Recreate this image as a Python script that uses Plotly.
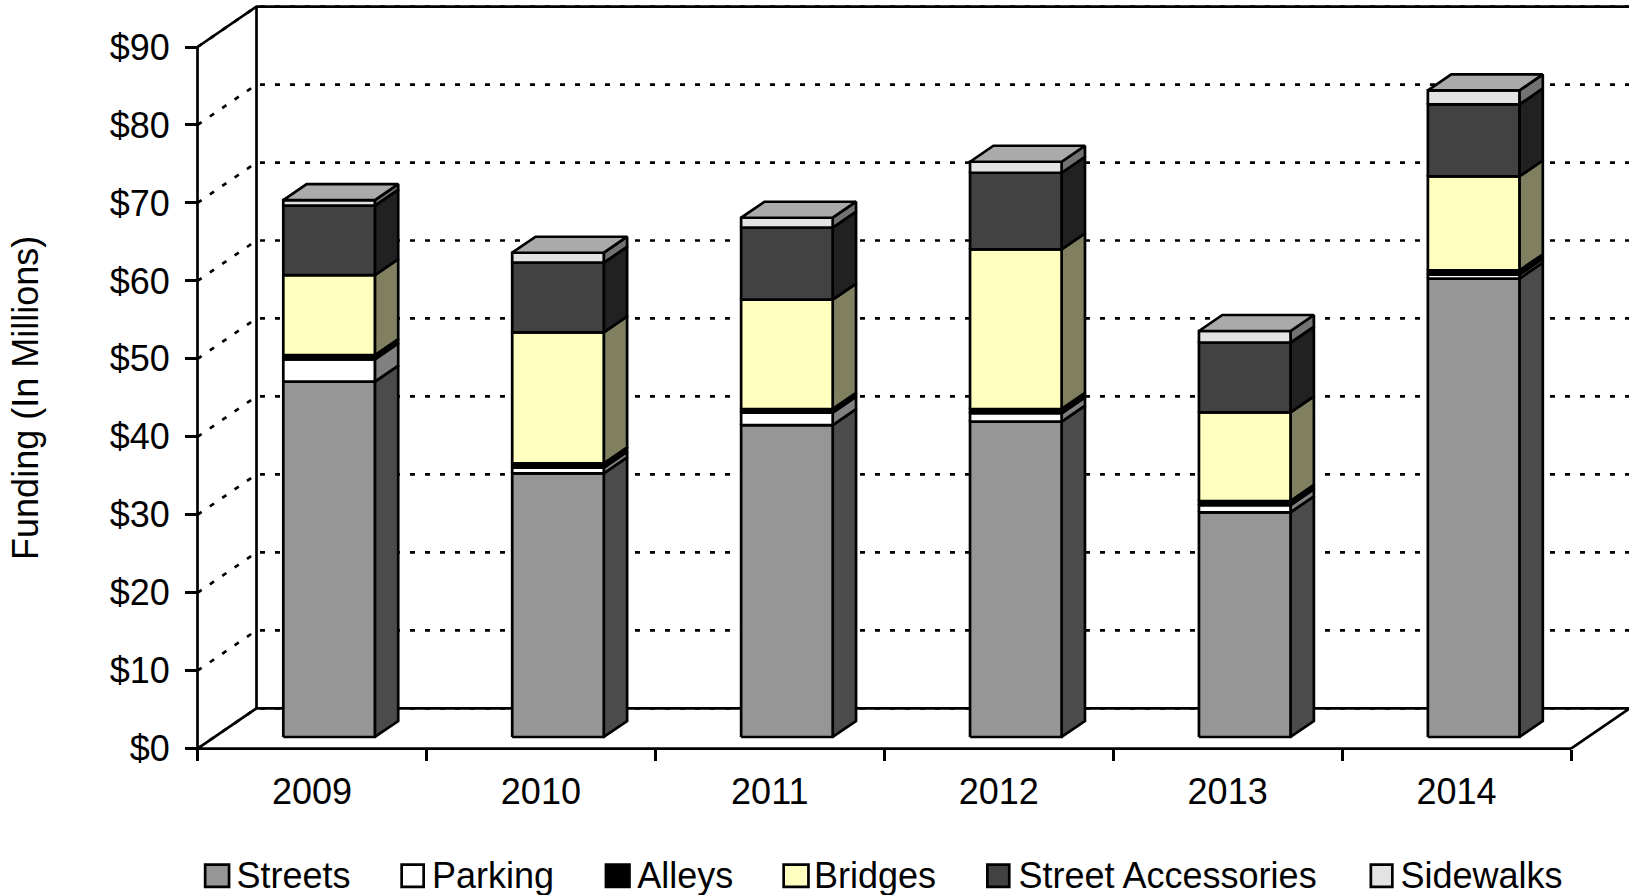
import plotly.graph_objects as go

W, H = 1629, 895
years = ["2009", "2010", "2011", "2012", "2013", "2014"]
streets = [45.57, 33.82, 40.00, 40.44, 28.82, 58.80]
parking = [2.87, 0.72, 1.60, 1.08, 0.93, 0.50]
alleys = [0.55, 0.56, 0.47, 0.55, 0.52, 0.55]
bridges = [10.25, 16.80, 14.02, 20.48, 11.37, 12.05]
accessories = [8.90, 8.93, 9.23, 9.82, 8.93, 9.23]
sidewalks = [0.73, 1.28, 1.28, 1.41, 1.50, 1.80]

names = ["Streets", "Parking", "Alleys", "Bridges", "Street Accessories", "Sidewalks"]
series = [streets, parking, alleys, bridges, accessories, sidewalks]
front_colors = ["#969696", "#FFFFFF", "#000000", "#FFFFC0", "#424242", "#E3E3E3"]
side_colors = ["#4B4B4B", "#808080", "#000000", "#808060", "#212121", "#727272"]
top_color = "#AAAAAA"
y_ticks = list(range(0, 100, 10))

# front plane of the chart, in page pixels
L, R, T, B = 197.5, 1571.0, 47.0, 748.7
# paper area: slightly larger, so the walls behind the front plane fit
PL, PR, PT, PB = 190.0, 1629.0, 3.0, 754.0
CW = (R - L) / 6          # pixels per category
PY = (B - T) / 90         # pixels per dollar
# oblique projection of the depth axis, in data units
DX = 59.0 / CW
DY = 40.4 / PY
BAR_W = 0.4
BAR_D0, BAR_D1 = 0.29, 0.686
LINE = 2.7


def poly(xs, ys, px, py):
    px.extend(xs + [xs[0], None])
    py.extend(ys + [ys[0], None])


def mark(**kw):
    return go.Scatter(xaxis="x2", yaxis="y2", mode="lines", showlegend=False, hoverinfo="skip", **kw)


fig = go.Figure()

# walls and gridlines
gx, gy = [], []
for v in y_ticks:
    gx += [0, DX, 6 + DX, None]
    gy += [v, v + DY, v + DY, None]
fig.add_trace(mark(x=gx, y=gy, line=dict(color="black", width=LINE, dash="5px,10px")))
wx = [6, 6 + DX, DX, 0, None, DX, DX, None, 0, DX, 6 + DX, None, 6, 0, 0]
wy = [0, DY, DY, 0, None, DY, 90 + DY, None, 90, 90 + DY, 90 + DY, None, 0, 0, 90]
fig.add_trace(mark(x=wx, y=wy, line=dict(color="black", width=LINE)))

# bars
dx0, dx1 = BAR_D0 * DX, BAR_D1 * DX
dy0, dy1 = BAR_D0 * DY, BAR_D1 * DY
d, e = dx1 - dx0, dy1 - dy0
base = [0.0] * len(years)
for vals, name, fc, sc in zip(series, names, front_colors, side_colors):
    fx, fy, sx, sy = [], [], [], []
    for i, v in enumerate(vals):
        a = i + (1 - BAR_W) / 2 + dx0
        b = a + BAR_W
        lo = base[i] + dy0
        hi = lo + v
        poly([a, b, b, a], [lo, lo, hi, hi], fx, fy)
        poly([b, b + d, b + d, b], [lo, lo + e, hi + e, hi], sx, sy)
        base[i] += v
    for px, py, col in ((sx, sy, sc), (fx, fy, fc)):
        fig.add_trace(mark(x=px, y=py, fill="toself", fillcolor=col, name=name,
                           line=dict(color="black", width=LINE)))

tx, ty = [], []
for i, v in enumerate(base):
    a = i + (1 - BAR_W) / 2 + dx0
    b = a + BAR_W
    hi = v + dy0
    poly([a, b, b + d, a + d], [hi, hi, hi + e, hi + e], tx, ty)
fig.add_trace(mark(x=tx, y=ty, fill="toself", fillcolor=top_color, line=dict(color="black", width=LINE)))

# one legend per series, so each entry sits where the reference has it;
# the square swatches are larger than a legend marker may be, so they are shapes
legend_text_x = [236.5, 432.0, 637.2, 814.0, 1018.5, 1400.5]
swatch_x = [(203.8, 230.4), (400.3, 425.0), (604.6, 630.8), (782.3, 809.8), (986.0, 1010.6), (1369.5, 1393.7)]
SW_T, SW_B = 863.3, 888.3
paper_w, paper_h = PR - PL, PB - PT
legends = {}
shapes = []
for k, (name, fc, tx0, (s0, s1)) in enumerate(zip(names, front_colors, legend_text_x, swatch_x)):
    key = "legend" if k == 0 else f"legend{k + 1}"
    fig.add_trace(go.Scatter(x=[None], y=[None], mode="markers", name=name, legend=key,
                             marker=dict(symbol="square", size=1, color="rgba(0,0,0,0)",
                                         line=dict(width=0))))
    legends[key] = dict(x=(tx0 - 40 - PL) / paper_w, xanchor="left", y=(PB - 874) / paper_h, yanchor="middle",
                        bgcolor="rgba(0,0,0,0)", borderwidth=0, font=dict(size=36, color="black"),
                        itemclick=False, itemdoubleclick=False)
    shapes.append(dict(type="rect", xref="paper", yref="paper", layer="below",
                       x0=(s0 + LINE / 2 - PL) / paper_w, x1=(s1 - LINE / 2 - PL) / paper_w,
                       y0=(PB - SW_B + LINE / 2) / paper_h, y1=(PB - SW_T - LINE / 2) / paper_h,
                       fillcolor=fc, line=dict(color="black", width=LINE)))

fig.update_layout(
    width=W, height=H, autosize=False,
    margin=dict(l=PL, r=W - PR, t=PT, b=H - PB, pad=0, autoexpand=False),
    paper_bgcolor="white", plot_bgcolor="rgba(0,0,0,0)",
    font=dict(family="Liberation Sans, Arial, sans-serif", size=36, color="black"),
    showlegend=True,
    shapes=shapes,
    xaxis=dict(domain=[(L - PL) / paper_w, (R - PL) / paper_w], anchor="y",
               range=[0, 6], tickmode="array", tickvals=[i + 0.5 for i in range(6)], ticktext=years,
               ticks="", showgrid=False, zeroline=False, showline=False,
               ticklabelstandoff=18,
               minor=dict(tickmode="array", tickvals=list(range(7)), ticks="outside", ticklen=11,
                          tickwidth=LINE, tickcolor="black", showgrid=False)),
    yaxis=dict(domain=[(PB - B) / paper_h, (PB - T) / paper_h], anchor="x",
               range=[0, 90], tickmode="array", tickvals=y_ticks, ticktext=[f"${v}" for v in y_ticks],
               ticks="outside", ticklen=11.5, tickwidth=LINE, tickcolor="black", showgrid=False, zeroline=False,
               showline=False, ticklabelstandoff=8,
               title=dict(text="Funding (In Millions)", standoff=60, font=dict(size=36))),
    xaxis2=dict(domain=[0, 1], anchor="y2", range=[(PL - L) / CW, (PR - L) / CW], visible=False),
    yaxis2=dict(domain=[0, 1], anchor="x2", range=[(B - PB) / PY, (B - PT) / PY], visible=False),
    **legends,
)

fig.write_html("out.html", config={"displayModeBar": False},
               post_script="document.body.style.margin='0';document.body.style.overflow='hidden';")
